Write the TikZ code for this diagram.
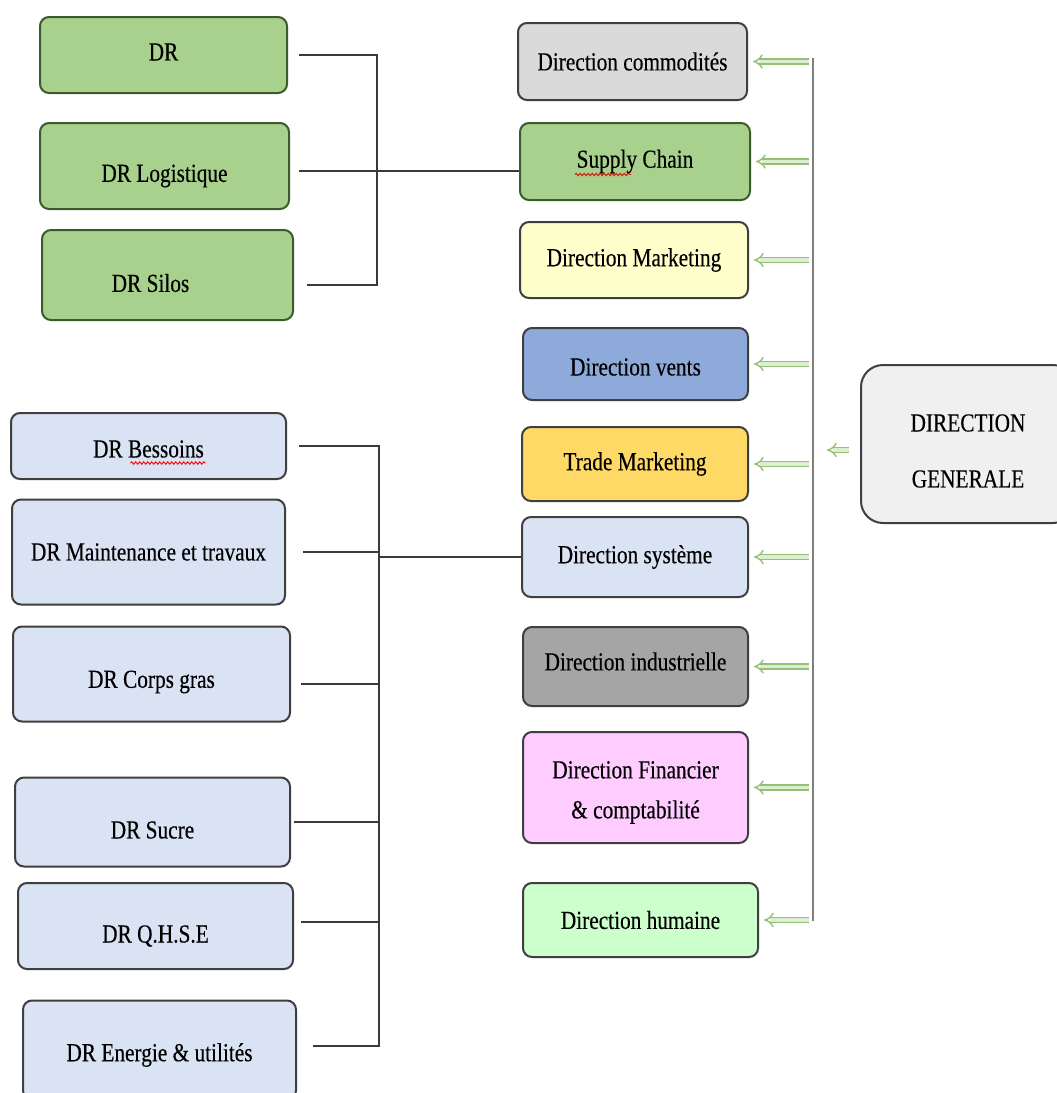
\documentclass[tikz,border=0pt]{standalone}
\usepackage{fontspec}
\setmainfont[FakeStretch=0.82,FakeBold=0.3]{Liberation Serif}
\usetikzlibrary{arrows.meta,decorations.pathmorphing}

% lower a line of text inside its box without changing the box size
\newcommand\down[2]{\raisebox{-#1}[\height][\depth]{#2}}

\definecolor{boxline}{HTML}{3F3F3F}
\definecolor{greenline}{HTML}{3C5A2A}
\definecolor{greenfill}{HTML}{A9D18E}
\definecolor{comfill}{HTML}{DADADA}
\definecolor{mktfill}{HTML}{FFFFCC}
\definecolor{ventsfill}{HTML}{8EAADB}
\definecolor{tradefill}{HTML}{FFD966}
\definecolor{sysfill}{HTML}{DAE3F3}
\definecolor{indfill}{HTML}{A5A5A5}
\definecolor{finfill}{HTML}{FFCCFF}
\definecolor{humfill}{HTML}{CCFFCC}
\definecolor{dgfill}{HTML}{F0F0F0}
\definecolor{connline}{HTML}{3A3A3A}
\definecolor{busline}{HTML}{7F7F7F}
\definecolor{arrowline}{HTML}{93BF76}
\definecolor{arrowfill}{HTML}{DDEDD0}

\tikzset{
  orgbox/.style={rectangle, rounded corners=9pt, line width=2pt, draw=boxline,
    inner sep=0pt, align=center, font=\fontsize{26}{30}\selectfont},
  greenbox/.style={orgbox, draw=greenline, fill=greenfill},
  subbox/.style={orgbox, fill=sysfill},
  conn/.style={draw=connline, line width=1.8pt},
  vbus/.style={draw=busline, line width=1.6pt},
  arr/.style={draw=arrowline, line width=1.4pt, double=arrowfill,
    double distance=3.5pt, -{Implies}, shorten >=5pt},
  spell/.style={draw=red, line width=0.9pt, decorate,
    decoration={snake, amplitude=1.2pt, segment length=4pt}}
}

\begin{document}
\begin{tikzpicture}[x=1pt, y=-1pt]
\clip (0,0) rectangle (1057,1093);
\fill[white] (0,0) rectangle (1057,1093);

% upper-left group
\node[greenbox, minimum width=247pt, minimum height=76pt] (dr)    at (163.5,55)  {\down{-3pt}{DR}};
\node[greenbox, minimum width=249pt, minimum height=86pt] (log)   at (164.5,166) {\down{10pt}{DR Logistique}};
\node[greenbox, minimum width=251pt, minimum height=90pt] (silos) at (167.5,275) {\down{8pt}{DR Silos\hspace{34pt}}};

% lower-left group
\node[subbox, minimum width=275pt, minimum height=66pt]  (bes)   at (148.5,446) {\down{3pt}{DR Bessoins}};
\node[subbox, minimum width=273pt, minimum height=105pt] (mnt)   at (148.5,552) {DR Maintenance et travaux};
\node[subbox, minimum width=277pt, minimum height=95pt]  (corps) at (151.5,674) {\down{8pt}{DR Corps gras}};
\node[subbox, minimum width=275pt, minimum height=89pt]  (sucre) at (152.5,822) {\down{8pt}{DR Sucre}};
\node[subbox, minimum width=275pt, minimum height=86pt]  (qhse)  at (155.5,926) {\down{10pt}{DR Q.H.S.E}};
\node[subbox, minimum width=273pt, minimum height=99pt]  (ener)  at (159.5,1050) {\down{5pt}{DR Energie \& utilités}};

% directions column
\node[orgbox, fill=comfill,   minimum width=229pt, minimum height=77pt]  (com)   at (632.5,61.5) {Direction commodités};
\node[greenbox,               minimum width=230pt, minimum height=77pt]  (sc)    at (635,161.5)  {Supply Chain};
\node[orgbox, fill=mktfill,   minimum width=228pt, minimum height=76pt]  (mkt)   at (634,260)    {Direction Marketing};
\node[orgbox, fill=ventsfill, minimum width=225pt, minimum height=72pt]  (vents) at (635.5,364)  {\down{3pt}{Direction vents}};
\node[orgbox, fill=tradefill, minimum width=226pt, minimum height=74pt]  (trade) at (635,464)    {Trade Marketing};
\node[orgbox, fill=sysfill,   minimum width=226pt, minimum height=80pt]  (sys)   at (635,557)    {Direction système};
\node[orgbox, fill=indfill,   minimum width=225pt, minimum height=79pt]  (ind)   at (635.5,666.5) {\down{-5pt}{Direction industrielle}};
\node[orgbox, fill=finfill,   minimum width=225pt, minimum height=111pt, font=\fontsize{26}{40}\selectfont]
  (fin) at (635.5,787.5) {\down{5pt}{Direction Financier}\\\down{5pt}{\& comptabilité}};
\node[orgbox, fill=humfill,   minimum width=235pt, minimum height=74pt]  (hum)   at (640.5,920)  {Direction humaine};

% general management
\node[orgbox, fill=dgfill, rounded corners=22pt, minimum width=214pt, minimum height=158pt,
  font=\fontsize{26}{56}\selectfont] (dg) at (968,444) {\down{7pt}{DIRECTION}\\\down{7pt}{GENERALE}};

% spell-check marks under two words
\draw[spell] ([xshift=-60pt,yshift=-13pt]sc.center) -- ([xshift=-4pt,yshift=-13pt]sc.center);
\draw[spell] ([xshift=-18pt,yshift=-17pt]bes.center) -- ([xshift=57pt,yshift=-17pt]bes.center);

% upper-left connectors
\coordinate (busA) at (377,0);
\draw[conn] ([xshift=11pt]dr.east) -- (dr.east -| busA) -- ([yshift=-10pt]silos.east -| busA)
  -- ([xshift=13pt,yshift=-10pt]silos.east);
\draw[conn] ([xshift=9pt,yshift=-5pt]log.east) -- ([yshift=-5pt]log.east -| sc.west);

% lower-left connectors
\coordinate (busB) at (379,0);
\draw[conn] ([xshift=12pt]bes.east) -- (bes.east -| busB) -- ([yshift=4pt]ener.east -| busB)
  -- ([xshift=16pt,yshift=4pt]ener.east);
\draw[conn] ([xshift=17pt]mnt.east) -- (mnt.east -| busB);
\draw[conn] ([xshift=10pt,yshift=-10pt]corps.east) -- ([yshift=-10pt]corps.east -| busB);
\draw[conn] ([xshift=3pt]sucre.east) -- (sucre.east -| busB);
\draw[conn] ([xshift=7pt,yshift=4pt]qhse.east) -- ([yshift=4pt]qhse.east -| busB);
\draw[conn] (sys.west) -- (sys.west -| busB);

% distribution bus and arrows
\coordinate (vtop) at (813,58);
\coordinate (vbot) at (813,921);
\draw[vbus] (vtop) -- (vbot);
\foreach \b in {com,sc,mkt,vents,trade,sys,ind,fin,hum}{
  \draw[arr] ([xshift=-4pt]\b.east -| vtop) -- (\b.east);
}
\draw[arr] ([xshift=-11pt,yshift=-6pt]dg.west) -- ([xshift=9pt,yshift=-6pt]dg.west -| vtop);
\end{tikzpicture}
\end{document}
